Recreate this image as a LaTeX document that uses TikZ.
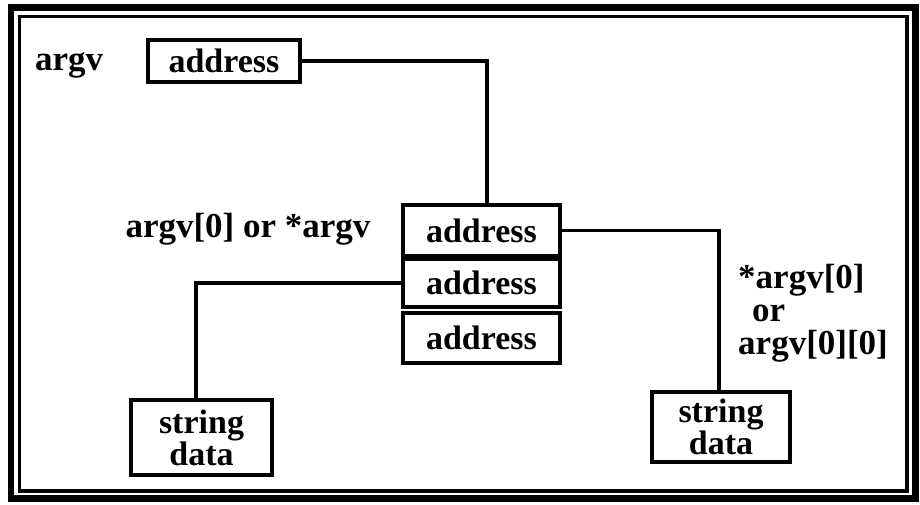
\documentclass[tikz,border=0pt]{standalone}
\usepackage{fontspec}
\setmainfont{Liberation Serif}
\usepackage{tikz}
\tikzset{
  membox/.style={draw,line width=3.4pt,inner sep=0pt,minimum width=155pt,minimum height=50pt,
    align=center,font=\fontsize{34}{30}\selectfont\bfseries},
  lbl/.style={inner sep=0pt,font=\fontsize{35}{33}\selectfont\bfseries},
  wire/.style={line width=3.4pt}
}
\newcommand{\cell}[4][]{\node[membox,#1] at (#2) (#3) {#4}}

\begin{document}
\begin{tikzpicture}[x=1pt,y=-1pt]
  \useasboundingbox[fill=white] (0,0) rectangle (920,504);
  % frame
  \draw[line width=6.5pt]   (11,7.5) rectangle (915.5,498.5);
  \draw[line width=3.2pt] (19.5,16.5) rectangle (907,491);

  \node[lbl,anchor=base west] (argvlbl) at (35,70) {argv};
  \cell[minimum width=152pt,minimum height=42pt]{224,61}{top}{address};

  \cell[minimum width=157pt,minimum height=51pt]{481.5,230.5}{arg0}{address};
  \cell[minimum width=157pt,minimum height=48pt]{481.5,283}{arg1}{address};
  \cell[minimum width=157pt,minimum height=50pt]{481.5,338}{arg2}{address};

  \cell[minimum width=141pt,minimum height=75pt]{201.5,437.5}{strL}{string\\data};
  \cell[minimum width=138pt,minimum height=70pt]{721,427}{strR}{string\\data};

  \node[lbl] (arg0lbl) at (248,229) {argv[0] or *argv};
  \node[lbl,align=left,anchor=north west] (charlbl) at (738,264)
    {*argv[0]\\\hspace*{14pt}or\\argv[0][0]};

  \draw[wire] (top.east) -| ([xshift=5.5pt]arg0.north);
  \draw[wire] (arg0.east) -| ([xshift=-2pt]strR.north);
  \draw[wire] (arg1.west) -| ([xshift=-5.5pt]strL.north);
\end{tikzpicture}
\end{document}
